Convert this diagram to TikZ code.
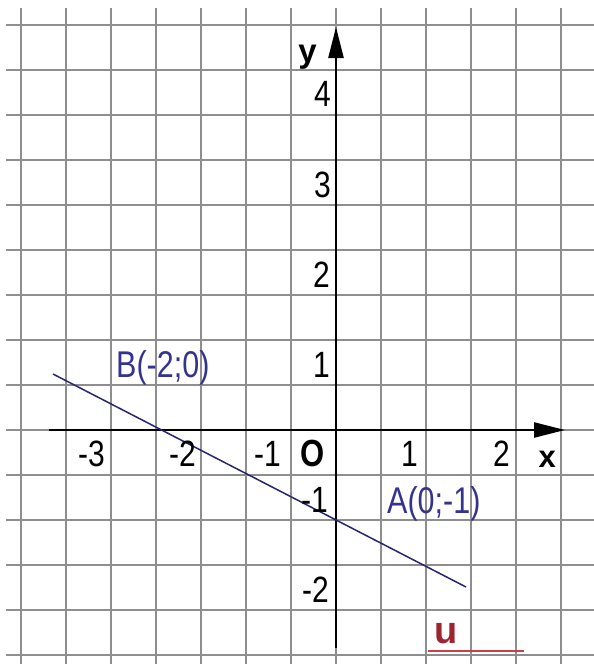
\documentclass[tikz,border=0pt]{standalone}
\usepackage{fontspec}
\usepackage{graphicx}
\setmainfont{Liberation Sans}
\usetikzlibrary{arrows.meta}
\definecolor{gridgray}{HTML}{8E8E8E}
\definecolor{navy}{HTML}{26266F}
\definecolor{labblue}{HTML}{34348E}
\definecolor{ured}{HTML}{9E2434}
\definecolor{ulred}{HTML}{C8404A}
\newcommand{\tallt}[1]{\scalebox{1}[1.22]{#1}}
\begin{document}
\begin{tikzpicture}[x=1pt,y=-1pt,
  gridline/.style={draw=gridgray,line width=1.3pt},
  axisline/.style={draw=black,line width=2.4pt,-{Triangle[length=31pt,width=15pt]}},
  graphline/.style={draw=navy,line width=1.5pt},
  ticklab/.style={font=\fontsize{30}{30}\selectfont,inner sep=0pt,anchor=base east},
  boldlab/.style={font=\fontsize{31}{31}\selectfont\bfseries,inner sep=0pt,anchor=base east},
  ptlab/.style={font=\fontsize{30.5}{30}\selectfont,text=labblue,inner sep=0pt,anchor=base west}]
\useasboundingbox (0,0) rectangle (594,664);
\fill[white] (0,0) rectangle (594,664);
% grid
\foreach \i in {0,...,12} \draw[gridline] ({21+45*\i},8) -- ({21+45*\i},664);
\foreach \j in {0,...,14} \draw[gridline] (6,{25+45*\j}) -- (594,{25+45*\j});
% axes
\coordinate (xs) at (49,430);
\coordinate (xe) at (565,430);
\coordinate (ys) at (336,648);
\coordinate (ye) at (336,27);
\draw[axisline] (xs) -- (xe);
\draw[axisline] (ys) -- (ye);
% graph line
\coordinate (L1) at (53,374);
\coordinate (L2) at (466,587);
\draw[graphline] (L1) -- (L2);
% axis names
\node[boldlab,font=\fontsize{33}{33}\selectfont\bfseries] (ylab) at (317,62) {y};
\node[boldlab] (xlab) at (556,467) {x};
\node[boldlab] (olab) at (325,466) {\tallt{O}};
% y ticks
\node[ticklab] (y4) at (331,106) {\tallt{4}};
\node[ticklab] (y3) at (331,197) {\tallt{3}};
\node[ticklab] (y2) at (330,287) {\tallt{2}};
\node[ticklab] (y1) at (330,377) {\tallt{1}};
\node[ticklab] (ym1) at (328,512) {\tallt{-1}};
\node[ticklab] (ym2) at (329,602) {\tallt{-2}};
% x ticks
\node[ticklab] (xm3) at (105,466) {\tallt{-3}};
\node[ticklab] (xm2) at (196,466) {\tallt{-2}};
\node[ticklab] (xm1) at (281,466) {\tallt{-1}};
\node[ticklab] (x1) at (418,466) {\tallt{1}};
\node[ticklab] (x2) at (510,466) {\tallt{2}};
% point labels
\node[ptlab] (Blab) at (116,377) {\tallt{B(-2;0)}};
\node[ptlab] (Alab) at (387,513) {\tallt{A(0;-1)}};
% u
\node[inner sep=0pt,anchor=base west,font=\fontsize{38}{38}\selectfont\bfseries,text=ured] (ulab) at (434,643) {u};
\coordinate (u1) at (428,651);
\coordinate (u2) at (524,651);
\draw[draw=ulred,line width=2pt] (u1) -- (u2);
\end{tikzpicture}
\end{document}
